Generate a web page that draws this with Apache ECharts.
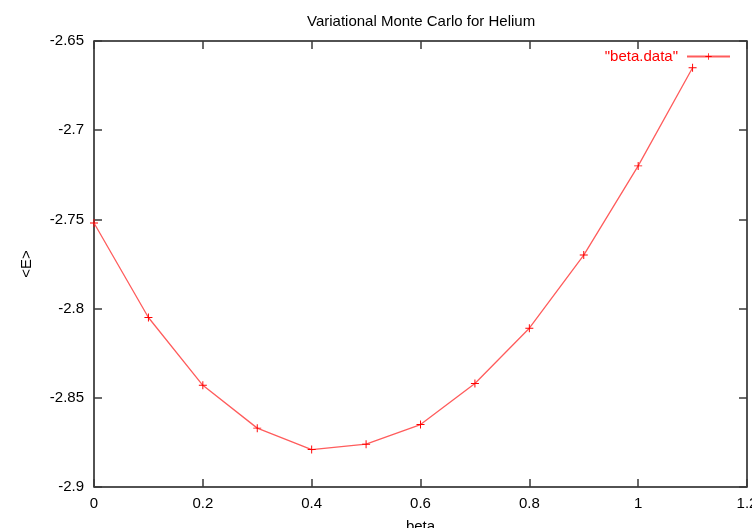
<!DOCTYPE html>
<html>
<head>
<meta charset="utf-8">
<script src="https://cdn.jsdelivr.net/npm/echarts@6/dist/echarts.min.js"></script>
<style>
  html, body { margin: 0; padding: 0; background: #fff; }
  #main { width: 752px; height: 528px; }
</style>
</head>
<body>
<div id="main"></div>
<script>
// beta values and the energy <E>
const beta = [0, 0.1, 0.2, 0.3, 0.4, 0.5, 0.6, 0.7, 0.8, 0.9, 1.0, 1.1];
const energy = [-2.752, -2.805, -2.843, -2.867, -2.879, -2.876, -2.865, -2.842, -2.811, -2.770, -2.720, -2.665];

const font = 'Liberation Sans, Arial, sans-serif';
const plus = 'path://M4.4,0 H5.6 V4.4 H10 V5.6 H5.6 V10 H4.4 V5.6 H0 V4.4 H4.4 Z';

function fmt(v) {
  return String(parseFloat(v.toFixed(2)));
}

// frame line + inward ticks, same on all four sides (gnuplot look)
function frameLine() {
  return { show: true, onZero: false, lineStyle: { color: '#3a3a3a', width: 1.5 } };
}
function frameTick() {
  return { show: true, inside: true, length: 8, lineStyle: { color: '#3a3a3a', width: 1.5 } };
}

let myChart = echarts.init(document.getElementById('main'));
let option = {
  animation: false,
  backgroundColor: '#fff',
  title: {
    text: 'Variational Monte Carlo for Helium',
    left: 302,
    top: 9,
    textStyle: { fontFamily: font, fontSize: 15, fontWeight: 'normal', color: '#000' }
  },
  legend: {
    right: 21,
    top: 49,
    align: 'right',
    itemWidth: 43,
    itemHeight: 8,
    padding: 0,
    textStyle: { fontFamily: font, fontSize: 15, color: '#ff0000', padding: [0, 4, 0, 0] },
    formatter: function (name) { return '"' + name + '"'; }
  },
  grid: {
    left: 94,
    right: 5,
    top: 41,
    bottom: 41,
    outerBoundsMode: 'none',
    show: true,
    borderColor: '#3a3a3a',
    borderWidth: 1
  },
  xAxis: [{
    type: 'value',
    min: 0,
    max: 1.2,
    interval: 0.2,
    name: 'beta',
    nameLocation: 'middle',
    nameGap: 32,
    nameTextStyle: { fontFamily: font, fontSize: 15, color: '#000' },
    axisLine: frameLine(),
    axisTick: frameTick(),
    axisLabel: { fontFamily: font, fontSize: 15, color: '#000', margin: 9, formatter: fmt },
    splitLine: { show: false }
  }, {
    type: 'value',
    position: 'top',
    min: 0,
    max: 1.2,
    interval: 0.2,
    axisLine: frameLine(),
    axisTick: frameTick(),
    axisLabel: { show: false },
    splitLine: { show: false }
  }],
  yAxis: [{
    type: 'value',
    position: 'left',
    min: -2.9,
    max: -2.65,
    interval: 0.05,
    name: '<E>',
    nameLocation: 'middle',
    nameGap: 60,
    nameTextStyle: { fontFamily: font, fontSize: 15, color: '#000' },
    axisLine: frameLine(),
    axisTick: frameTick(),
    axisLabel: { fontFamily: font, fontSize: 15, color: '#000', margin: 10, formatter: fmt },
    splitLine: { show: false }
  }, {
    type: 'value',
    position: 'right',
    min: -2.9,
    max: -2.65,
    interval: 0.05,
    axisLine: frameLine(),
    axisTick: frameTick(),
    axisLabel: { show: false },
    splitLine: { show: false }
  }],
  series: [{
    name: 'beta.data',
    type: 'line',
    data: beta.map((b, i) => [b, energy[i]]),
    symbol: plus,
    symbolSize: 8,
    showAllSymbol: true,
    itemStyle: { color: '#ff0000' },
    lineStyle: { color: '#ff5c5c', width: 1.3 }
  }]
};
myChart.setOption(option);
</script>
</body>
</html>
